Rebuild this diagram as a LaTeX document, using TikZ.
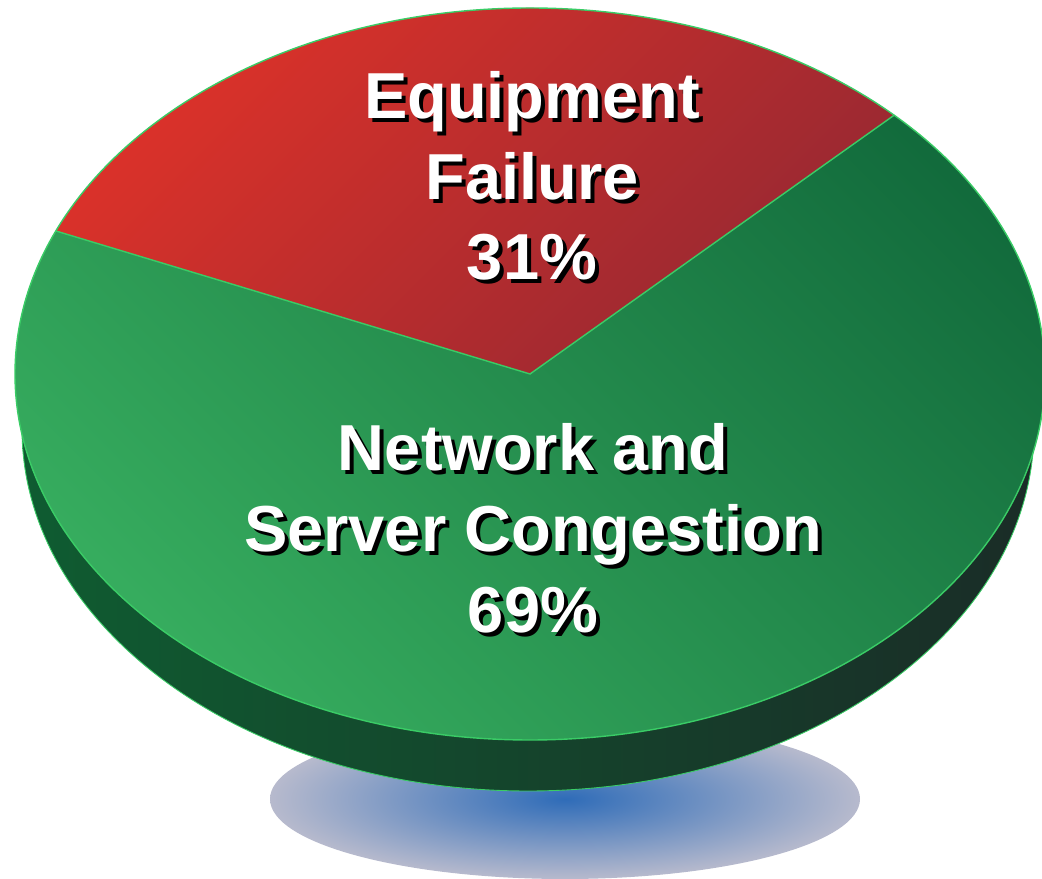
\documentclass[tikz,border=0pt]{standalone}
\usepackage{fontspec}
\setmainfont{Liberation Sans}
\usetikzlibrary{positioning}
\definecolor{redlight}{HTML}{DE3229}
\definecolor{reddark}{HTML}{962832}
\definecolor{greenlight}{HTML}{36AC5E}
\definecolor{greendark}{HTML}{126B3C}
\definecolor{sidegreen}{HTML}{0F5C31}
\definecolor{sidedark}{HTML}{1A2C27}
\definecolor{rimgreen}{HTML}{3ACC66}
\definecolor{shadowblue}{HTML}{2F6CB8}
\definecolor{shadowgray}{HTML}{B7BACD}

\begin{document}
\begin{tikzpicture}[x=0.02cm,y=0.02cm,
    slicetext/.style={
      % white bold lettering
      text=white,font=\fontsize{37}{46}\selectfont\bfseries,
      align=center,inner sep=0pt
      },
    slicedrop/.style={slicetext,text=black}]
  \useasboundingbox (0,0) rectangle (1042,879);
  \clip (0,0) rectangle (1042,879);
  \coordinate (top) at (530,505);
  \coordinate (bottom) at (528,450);
  \coordinate (floor) at (565,80);
  % shadow under the pie
  \shade[inner color=shadowblue,outer color=shadowgray] (floor) ellipse [x radius=295,y radius=80];
  % side of the pie
  \shade[left color=sidegreen,right color=sidedark] (bottom) ellipse [x radius=506,y radius=362];
  \draw[rimgreen,line width=0.5pt] (bottom) ellipse [x radius=506,y radius=362];
  % top face
  \shade[top color=greendark,bottom color=greenlight,shading angle=-45] (top) ellipse [x radius=515,y radius=366];
  \shade[top color=redlight,bottom color=reddark,shading angle=45]
    (top) -- ++(45:515 and 366) arc [start angle=45,end angle=157,x radius=515,y radius=366] -- cycle;
  \draw[rimgreen,line width=0.8pt] (top) ellipse [x radius=515,y radius=366];
  \draw[rimgreen,line width=0.8pt] (top) ++(157:515 and 366) -- (top) -- ++(45:515 and 366);
  % labels
  \coordinate (failpos) at (532,703);
  \coordinate (congpos) at (533,351);
  \node[slicedrop] (failshade) at ([shift={(4,-4)}]failpos) {Equipment\\Failure\\31\%};
  \node[slicetext] (faillabel) at (failpos) {Equipment\\Failure\\31\%};
  \node[slicedrop] (congshade) at ([shift={(4,-4)}]congpos) {Network and\\Server Congestion\\69\%};
  \node[slicetext] (conglabel) at (congpos) {Network and\\Server Congestion\\69\%};
\end{tikzpicture}
\end{document}
